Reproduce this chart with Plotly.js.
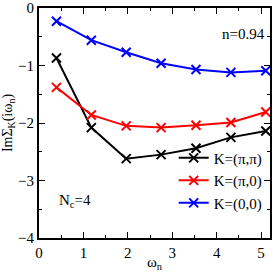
<!DOCTYPE html>
<html><head><meta charset="utf-8">
<script src="https://cdn.plot.ly/plotly-3.0.1.min.js"></script>
<style>body{margin:0;padding:0;}#chart{width:273px;height:272px;}</style>
</head><body><div id="chart"></div>
<script>
var omega = [0.393, 1.178, 1.963, 2.749, 3.534, 4.320, 5.105];
var kPiPi = [-0.87, -2.08, -2.62, -2.55, -2.44, -2.25, -2.14];
var kPi0  = [-1.38, -1.86, -2.05, -2.08, -2.04, -1.99, -1.81];
var k00   = [-0.23, -0.56, -0.77, -0.96, -1.07, -1.12, -1.09];
var names = ["K=(\u03c0,\u03c0)", "K=(\u03c0,0)", "K=(0,0)"];
var colors = ["#000000", "#ff0000", "#0000ff"];
var series = [kPiPi, kPi0, k00];
var font = "Liberation Serif";
var traces = series.map(function(s, i){
  return {x: omega, y: s, name: names[i], mode: "lines+markers", type: "scatter",
    line: {color: colors[i], width: 2},
    marker: {symbol: "x-thin", size: 9, color: colors[i], line: {color: colors[i], width: 2}}};
});
var axisCommon = {showgrid: false, zeroline: false, showline: true, linecolor: "#000", linewidth: 2,
  mirror: "allticks", ticks: "inside", ticklen: 6, tickwidth: 1, tickcolor: "#000",
  ticklabeloverflow: "allow",
  tickfont: {family: font, size: 15, color: "#000"}};
var layout = {
  width: 273, height: 272,
  margin: {l: 39, r: 3, t: 8, b: 34},
  paper_bgcolor: "#fff", plot_bgcolor: "#fff",
  showlegend: true,
  legend: {x: 0.99, xanchor: "right", y: 0.08, yanchor: "bottom", bgcolor: "rgba(0,0,0,0)",
    font: {family: font, size: 15, color: "#000"}, tracegroupgap: 0, itemwidth: 30},
  xaxis: Object.assign({}, axisCommon, {range: [0, 5.2], dtick: 1, tick0: 0,
    minor: {dtick: 0.5, ticklen: 3, ticks: "inside", tickcolor: "#000"},
    title: {text: "\u03c9<sub>n</sub>", font: {family: font, size: 15, color: "#000"}, standoff: 4}}),
  yaxis: Object.assign({}, axisCommon, {range: [-4, 0], dtick: 1, tick0: 0,
    minor: {dtick: 0.5, ticklen: 3, ticks: "inside", tickcolor: "#000"},
    title: {text: "Im\u03a3<sub>K</sub>(i\u03c9<sub>n</sub>)", font: {family: font, size: 14, color: "#000"}, standoff: 6}}),
  annotations: [
    {x: 0.985, y: 0.885, xref: "paper", yref: "paper", xanchor: "right", yanchor: "middle", showarrow: false,
      text: "n=0.94", font: {family: font, size: 15, color: "#000"}},
    {x: 0.08, y: 0.16, xref: "paper", yref: "paper", xanchor: "left", yanchor: "middle", showarrow: false,
      text: "N<sub>c</sub>=4", font: {family: font, size: 15, color: "#000"}}
  ]
};
Plotly.newPlot("chart", traces, layout, {displayModeBar: false, staticPlot: true});
</script></body></html>
